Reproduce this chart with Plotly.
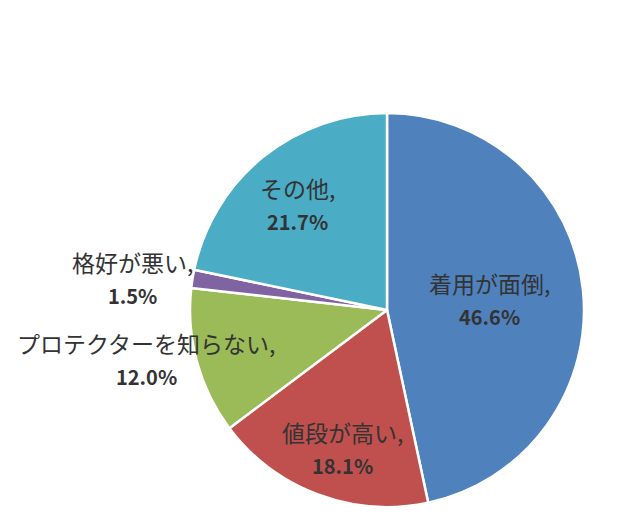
import plotly.graph_objects as go

# Datos del gráfico (en orden horario desde las 12)
categorias = ["着用が面倒", "値段が高い", "プロテクターを知らない", "格好が悪い", "その他"]
valores = [46.6, 18.1, 12.0, 1.5, 21.7]
colores = ["#4F81BD", "#C0504D", "#9BBB59", "#8064A2", "#4BACC6"]

# Posición (centro) de cada etiqueta en coordenadas de papel, mismo orden que categorias
etiqueta_x = [0.753, 0.523, 0.216, 0.195, 0.453]
etiqueta_y = [0.479, 0.197, 0.366, 0.519, 0.659]

FUENTE = "Noto Sans CJK JP, Noto Sans, sans-serif"
COLOR_TEXTO = "#333333"

fig = go.Figure(
    go.Pie(
        labels=categorias,
        values=valores,
        sort=False,
        direction="clockwise",
        rotation=0,
        marker=dict(colors=colores, line=dict(color="white", width=2.5)),
        textinfo="none",
        hoverinfo="label+percent",
        domain=dict(x=[0.2844, 0.9], y=[0.0549, 0.8011]),
        showlegend=False,
    )
)

# Etiquetas: nombre de la categoría y el porcentaje en negrita debajo
for cat, val, x, y in zip(categorias, valores, etiqueta_x, etiqueta_y):
    fig.add_annotation(
        text=f"{cat},",
        x=x,
        y=y,
        xref="paper",
        yref="paper",
        xanchor="center",
        yanchor="middle",
        showarrow=False,
        font=dict(family=FUENTE, size=23, color=COLOR_TEXTO),
    )
    fig.add_annotation(
        text=f"<b>{val:.1f}%</b>",
        x=x,
        y=y - 0.064,
        xref="paper",
        yref="paper",
        xanchor="center",
        yanchor="middle",
        showarrow=False,
        font=dict(family=FUENTE, size=20, color=COLOR_TEXTO),
    )

fig.update_layout(
    width=640,
    height=528,
    margin=dict(l=0, r=0, t=0, b=0),
    paper_bgcolor="white",
    plot_bgcolor="white",
)

fig.write_html("out.html")
